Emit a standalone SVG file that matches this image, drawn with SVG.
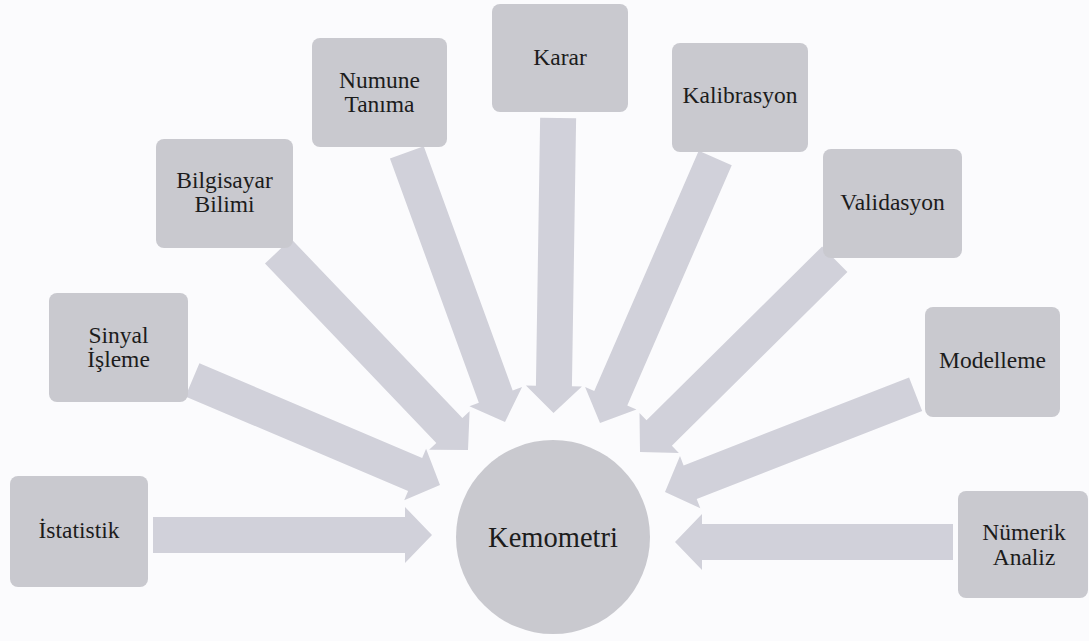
<svg xmlns="http://www.w3.org/2000/svg" width="1089" height="641" viewBox="0 0 1089 641">
<style>
.box{fill:#c9c9cf;}
.arr{fill:#d1d1da;}
text{font-family:"Liberation Serif","Times New Roman",serif;font-size:23.5px;fill:#1c1c1c;text-anchor:middle;}
.big{font-size:28.5px;}
</style>
<rect x="0" y="0" width="1089" height="641" fill="#fbfbfd"/>
<g id="connectors">
<path class="arr" transform="translate(432,535) rotate(0)" d="M -279 -18 L -27 -18 L -27 -28 L 0 0 L -27 28 L -27 18 L -279 18 Z"/>
<path class="arr" transform="translate(440,485) rotate(23)" d="M -269 -18 L -27 -18 L -27 -28 L 0 0 L -27 28 L -27 18 L -269 18 Z"/>
<path class="arr" transform="translate(468,450) rotate(46.3)" d="M -275 -18 L -27 -18 L -27 -28 L 0 0 L -27 28 L -27 18 L -275 18 Z"/>
<path class="arr" transform="translate(505,422) rotate(70)" d="M -287 -18 L -27 -18 L -27 -28 L 0 0 L -27 28 L -27 18 L -287 18 Z"/>
<path class="arr" transform="translate(553.5,413) rotate(90.9)" d="M -295 -18 L -27 -18 L -27 -28 L 0 0 L -27 28 L -27 18 L -295 18 Z"/>
<path class="arr" transform="translate(600,423) rotate(113.5)" d="M -289 -18 L -27 -18 L -27 -28 L 0 0 L -27 28 L -27 18 L -289 18 Z"/>
<path class="arr" transform="translate(640,452) rotate(135.3)" d="M -274 -18 L -27 -18 L -27 -28 L 0 0 L -27 28 L -27 18 L -274 18 Z"/>
<path class="arr" transform="translate(665,492) rotate(158.7)" d="M -269 -18 L -27 -18 L -27 -28 L 0 0 L -27 28 L -27 18 L -269 18 Z"/>
<path class="arr" transform="translate(675,542) rotate(180)" d="M -278 -18 L -27 -18 L -27 -28 L 0 0 L -27 28 L -27 18 L -278 18 Z"/>
</g>
<g id="kemometri">
<circle class="box" cx="553" cy="537" r="97"/>
<text class="big" x="553" y="547">Kemometri</text>
</g>
<g id="istatistik">
<rect class="box" x="10" y="476" width="138" height="111" rx="8"/>
<text x="79" y="538">İstatistik</text>
</g>
<g id="sinyal-isleme">
<rect class="box" x="49" y="293" width="139" height="109" rx="8"/>
<text x="118.5" y="343">Sinyal</text>
<text x="118.5" y="367">İşleme</text>
</g>
<g id="bilgisayar-bilimi">
<rect class="box" x="156" y="139" width="137" height="109" rx="8"/>
<text x="224.5" y="188">Bilgisayar</text>
<text x="224.5" y="212">Bilimi</text>
</g>
<g id="numune-tanima">
<rect class="box" x="312" y="38" width="135" height="109" rx="8"/>
<text x="379.5" y="88">Numune</text>
<text x="379.5" y="112">Tanıma</text>
</g>
<g id="karar">
<rect class="box" x="492" y="4" width="136" height="108" rx="8"/>
<text x="560" y="65">Karar</text>
</g>
<g id="kalibrasyon">
<rect class="box" x="672" y="43" width="136" height="109" rx="8"/>
<text x="740" y="103">Kalibrasyon</text>
</g>
<g id="validasyon">
<rect class="box" x="823" y="149" width="139" height="109" rx="8"/>
<text x="892.5" y="210">Validasyon</text>
</g>
<g id="modelleme">
<rect class="box" x="925" y="307" width="135" height="110" rx="8"/>
<text x="992.5" y="368">Modelleme</text>
</g>
<g id="numerik-analiz">
<rect class="box" x="958" y="491" width="130" height="107" rx="8"/>
<text x="1024" y="540">Nümerik</text>
<text x="1024" y="565">Analiz</text>
</g>
</svg>
